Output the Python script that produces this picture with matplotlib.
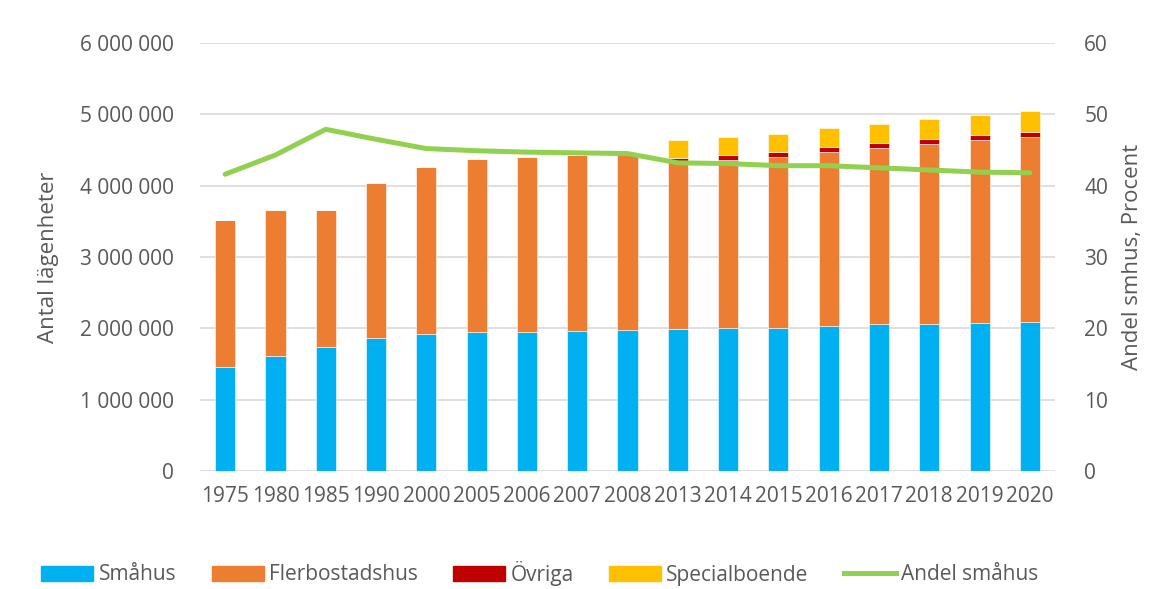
import matplotlib
matplotlib.use("Agg")
import matplotlib.pyplot as plt
import numpy as np
from matplotlib.patches import Patch
from matplotlib.lines import Line2D

years = ["1975", "1980", "1985", "1990", "2000", "2005", "2006", "2007", "2008",
         "2013", "2014", "2015", "2016", "2017", "2018", "2019", "2020"]
smahus = [1452000, 1610000, 1741000, 1863000, 1914000, 1951000, 1951000, 1960000, 1970000,
          1990000, 2000000, 2007000, 2035000, 2059000, 2063000, 2073000, 2091000]
flerbostadshus = [2073000, 2055000, 1924000, 2180000, 2353000, 2419000, 2447000, 2470000, 2490000,
                  2360000, 2366000, 2401000, 2442000, 2475000, 2527000, 2563000, 2597000]
ovriga = [0, 0, 0, 0, 0, 0, 0, 0, 0,
          40000, 60000, 64000, 65000, 64000, 64000, 70000, 64000]
specialboende = [0, 0, 0, 0, 0, 0, 0, 0, 0,
                 255000, 256000, 252000, 262000, 272000, 280000, 280000, 294000]
andel_smahus = [41.6, 44.3, 47.9, 46.5, 45.2, 44.9, 44.7, 44.6, 44.5,
                43.2, 43.1, 42.8, 42.8, 42.5, 42.2, 41.9, 41.8]
y_ticks = [0, 1000000, 2000000, 3000000, 4000000, 5000000, 6000000]
y_ticklabels = ["0", "1 000 000", "2 000 000", "3 000 000", "4 000 000", "5 000 000", "6 000 000"]
y2_ticks = [0, 10, 20, 30, 40, 50, 60]

plt.rcParams['font.family'] = ['Open Sans', 'DejaVu Sans']
txt = '#595959'
c_blue, c_orange, c_red, c_yellow, c_green = '#00B0F0', '#ED7D31', '#C00000', '#FFC000', '#92D050'

fig = plt.figure(figsize=(11.6, 5.89), dpi=100)
ax = fig.add_axes([200/1160, (589-471)/589, 855/1160, 428/589])
x = np.arange(len(years))
w = 0.4
s = np.array(smahus); f = np.array(flerbostadshus); o = np.array(ovriga); sp = np.array(specialboende)
ec = dict(edgecolor='white', linewidth=0.4)
ax.bar(x, s, w, color=c_blue, zorder=2, **ec)
ax.bar(x, f, w, bottom=s, color=c_orange, zorder=2, **ec)
ax.bar(x, o, w, bottom=s+f, color=c_red, zorder=2, **ec)
ax.bar(x, sp, w, bottom=s+f+o, color=c_yellow, zorder=2, **ec)

ax.set_xlim(-0.5, len(years)-0.5)
ax.set_ylim(0, 6000000)
ax.set_yticks(y_ticks)
ax.set_yticklabels(y_ticklabels)
ax.set_xticks(x)
ax.set_xticklabels(years)
ax.grid(axis='y', color='#D9D9D9', linewidth=1.2, zorder=0)
ax.set_axisbelow(True)
for sp_ in ax.spines.values():
    sp_.set_visible(False)
ax.tick_params(axis='both', length=0, labelsize=15, colors=txt)
ax.tick_params(axis='y', pad=19)
ax.tick_params(axis='x', pad=11)
ax.set_ylabel("Antal lägenheter", fontsize=16, color=txt, labelpad=15)

ax2 = ax.twinx()
ax2.plot(x, andel_smahus, color=c_green, linewidth=3.6, zorder=3, solid_capstyle='round')
ax2.set_ylim(0, 60)
ax2.set_yticks(y2_ticks)
for sp_ in ax2.spines.values():
    sp_.set_visible(False)
ax2.tick_params(axis='y', length=0, labelsize=15, colors=txt, pad=21)
ax2.set_ylabel("Andel smhus, Procent", fontsize=16, color=txt, labelpad=10)

handles = [Patch(color=c_blue), Patch(color=c_orange), Patch(color=c_red), Patch(color=c_yellow),
           Line2D([0], [0], color=c_green, linewidth=3.6)]
labels = ["Småhus", "Flerbostadshus", "Övriga", "Specialboende", "Andel småhus"]
leg = fig.legend(handles, labels, loc='center', bbox_to_anchor=(540/1160, 1-573/589), ncol=5,
                 frameon=False, fontsize=15, handlelength=2.5, handleheight=0.7,
                 handletextpad=0.25, columnspacing=1.7)
for t in leg.get_texts():
    t.set_color(txt)

fig.savefig("out.png", dpi=100)
